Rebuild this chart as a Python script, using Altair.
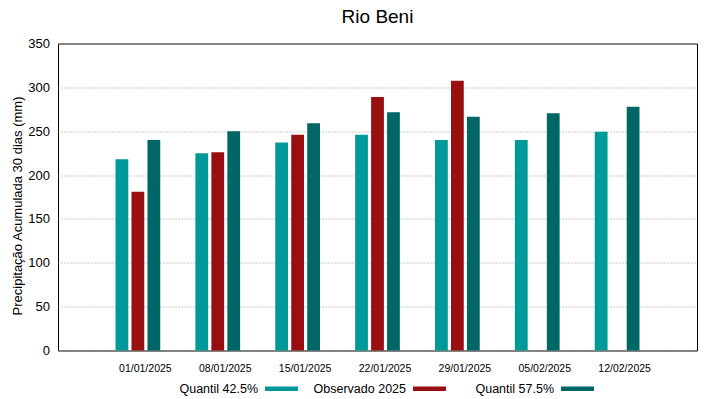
import altair as alt
import pandas as pd

dates = ["01/01/2025", "08/01/2025", "15/01/2025", "22/01/2025",
         "29/01/2025", "05/02/2025", "12/02/2025"]
series_names = ["Quantil 42.5%", "Observado 2025", "Quantil 57.5%"]
q425 = [218, 225, 237, 246, 240, 240, 249.5]
obs = [181, 226, 246, 289, 307.5, None, None]
q575 = [240, 250, 259, 271.5, 266.5, 270.5, 278]
colors = ["#009999", "#990F0F", "#006666"]
y_ticks = [0, 50, 100, 150, 200, 250, 300, 350]

rows = []
for name, vals in zip(series_names, [q425, obs, q575]):
    for d, v in zip(dates, vals):
        if v is not None:
            rows.append({"data": d, "serie": name, "valor": v})
df = pd.DataFrame(rows)

FONT = "Liberation Sans"
# legend swatch drawn to the right of a right-aligned label; the extra moveTo
# gives every legend entry the same width
legend_shape = "M-5.485,0M1.424,-0.14L3.424,-0.14L3.424,0.14L1.424,0.14Z"

chart = alt.Chart(df).mark_bar(strokeWidth=0).encode(
    x=alt.X("data:N", sort=dates,
            scale=alt.Scale(paddingInner=0.04, paddingOuter=0.52),
            axis=alt.Axis(title=None, labelAngle=0, labelFontSize=10.5,
                          labelOffset=7.5, labelPadding=13, tickSize=0,
                          domain=False, grid=False, labelColor="#000")),
    xOffset=alt.XOffset("serie:N", sort=series_names,
                        scale=alt.Scale(paddingInner=0.2, paddingOuter=1)),
    y=alt.Y("valor:Q", scale=alt.Scale(domain=[0, 350], nice=False),
            axis=alt.Axis(values=y_ticks, title="Precipitação Acumulada 30 dias (mm)",
                          titleFontSize=13, titleFontWeight="normal", titleColor="#000",
                          titleX=-41, titleY=162, titleBaseline="middle",
                          labelFontSize=13, labelPadding=8.5, labelColor="#000",
                          tickSize=0, domain=False, grid=True,
                          gridColor="#999999", gridDash=[1, 2], gridWidth=1)),
    color=alt.Color("serie:N", sort=series_names,
                    scale=alt.Scale(domain=series_names, range=colors),
                    legend=alt.Legend(title=None, orient="none", legendX=167, legendY=328.7,
                                      direction="horizontal", symbolType=legend_shape,
                                      symbolSize=1089, symbolStrokeWidth=0, symbolOpacity=1,
                                      labelAlign="right", labelOffset=0, labelFontSize=12.5,
                                      labelColor="#000", labelFont=FONT, columnPadding=0,
                                      padding=0)),
).properties(
    width=639, height=307,
    title=alt.TitleParams("Rio Beni", fontSize=19, fontWeight="normal", font=FONT,
                          anchor="middle", offset=11, color="#000"),
    autosize=alt.AutoSizeParams(type="none"),
    padding={"left": 50, "top": 35.5, "right": 14, "bottom": 48},
).configure(font=FONT).configure_view(stroke="#000", strokeWidth=1)

chart.save("out.html", embed_options={"renderer": "svg", "actions": False})
